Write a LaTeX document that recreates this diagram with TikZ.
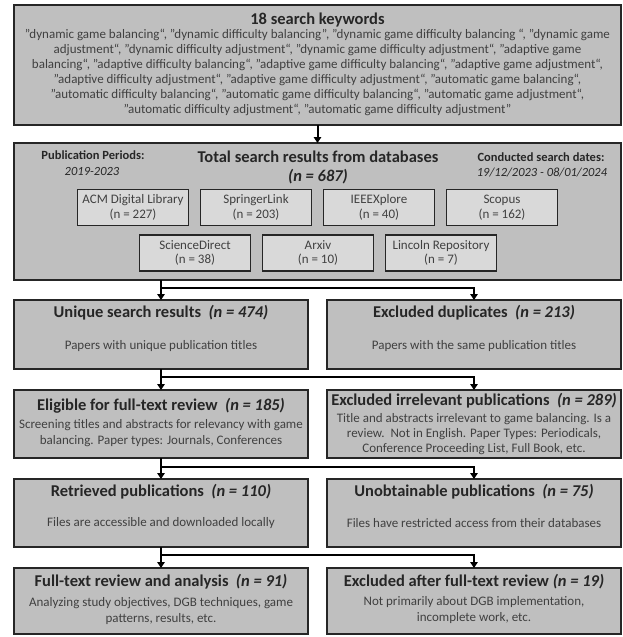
\documentclass[tikz,border=0pt]{standalone}
\usepackage{fontspec}
\setmainfont{Carlito}
\usepackage{tikz}
\usetikzlibrary{arrows.meta}
\definecolor{boxgray}{RGB}{191,191,191}
\definecolor{dbgray}{RGB}{217,217,217}
\definecolor{edgegray}{RGB}{38,38,38}
\definecolor{bodygray}{RGB}{64,64,64}
\tikzset{%
    stage/.style={%
        draw=edgegray, fill=boxgray, line width=1.6pt,
        inner sep=0pt, outer sep=0pt, anchor=north west
    },
    halfbox/.style={stage, minimum width=294pt, minimum height=#1},
    dbbox/.style={%
        draw=edgegray, fill=dbgray, line width=1.6pt,
        minimum width=111pt, minimum height=36pt, inner sep=0pt,
        align=center, text=bodygray,
        font=\fontsize{13}{14.5}\selectfont
    },
    headline/.style={inner sep=0pt, text=black!85, font=\fontsize{16.5}{19}\selectfont\bfseries},
    sidenote/.style={inner sep=0pt, text=black!85, font=\fontsize{12.5}{15}\selectfont},
    bodytext/.style={inner sep=0pt, text=bodygray, align=center, font=\fontsize{13}{15.2}\selectfont},
    flow/.style={draw=black, line width=2pt, -{Triangle[length=6pt,width=7.5pt]}}
}
\begin{document}
\begin{tikzpicture}[x=1pt,y=-1pt]
    \useasboundingbox (0,0) rectangle (622,637);
    \node[stage, minimum width=607pt, minimum height=120pt] (keywords) at (14,5) {};
    \node[stage, minimum width=607pt, minimum height=137pt] (totaldb) at (14,143) {};
    \node[halfbox=69pt] (uniq) at (14,300) {};
    \node[halfbox=69pt] (dup) at (327,300) {};
    \node[halfbox=68pt] (elig) at (14,390) {};
    \node[halfbox=68pt] (irrel) at (327,390) {};
    \node[halfbox=68pt] (retr) at (14,479) {};
    \node[halfbox=68pt] (unobt) at (327,479) {};
    \node[halfbox=66pt] (fulltext) at (14,568) {};
    \node[halfbox=66pt] (excl) at (327,568) {};

    \node[headline] (kwtitle) at (317.5,20) {18 search keywords};
    \node[bodytext, font=\fontsize{13}{15}\selectfont] (kwlist) at (317.5,72) {%
        "dynamic game balancing“, "dynamic difficulty balancing", "dynamic game difficulty balancing “, "dynamic game\\
        adjustment“, "dynamic difficulty adjustment“, "dynamic game difficulty adjustment“, "adaptive game\\
        balancing“, "adaptive difficulty balancing“, "adaptive game difficulty balancing“, "adaptive game adjustment“,\\
        "adaptive difficulty adjustment“, "adaptive game difficulty adjustment“, "automatic game balancing“,\\
        "automatic difficulty balancing“, "automatic game difficulty balancing“, "automatic game adjustment“,\\
        "automatic difficulty adjustment“, "automatic game difficulty adjustment"};

    \node[sidenote, font=\fontsize{12.5}{15}\selectfont\bfseries] (pubper) at (93,155) {Publication Periods:};
    \node[sidenote, font=\fontsize{12.5}{15}\selectfont\itshape] (pubyears) at (92,171) {2019-2023};
    \node[headline] (total) at (318,157) {Total search results from databases};
    \node[headline, font=\fontsize{16.5}{19}\selectfont\bfseries\itshape] (totaln) at (318,177) {(n = 687)};
    \node[sidenote, font=\fontsize{12.5}{15}\selectfont\bfseries] (dates) at (541,157) {Conducted search dates:};
    \node[sidenote, font=\fontsize{12.5}{15}\selectfont\itshape] (datesval) at (542,172) {19/12/2023 - 08/01/2024};

    \node[dbbox] (acm) at (133,207.5) {ACM Digital Library\\(n = 227)};
    \node[dbbox] (springer) at (256,207.5) {SpringerLink\\(n = 203)};
    \node[dbbox] (ieee) at (379,207.5) {IEEEXplore\\(n = 40)};
    \node[dbbox] (scopus) at (502,207.5) {Scopus\\(n = 162)};
    \node[dbbox] (scidirect) at (195,253) {ScienceDirect\\(n = 38)};
    \node[dbbox] (arxiv) at (318,253) {Arxiv\\(n = 10)};
    \node[dbbox] (lincoln) at (441,253) {Lincoln Repository\\(n = 7)};

    \node[headline] (uniqtitle) at (161,313) {Unique search results\ \ \textit{(n = 474)}};
    \node[bodytext] (uniqbody) at (161,346) {Papers with unique publication titles};
    \node[headline] (duptitle) at (474,313) {Excluded duplicates\ \ \textit{(n = 213)}};
    \node[bodytext] (dupbody) at (474,346) {Papers with the same publication titles};

    \node[headline] (eligtitle) at (161,406) {Eligible for full-text review\ \ \textit{(n = 185)}};
    \node[bodytext] (eligbody) at (161,433) {Screening titles and abstracts for relevancy with game\\balancing. Paper types: Journals, Conferences};
    \node[headline] (irreltitle) at (474,401) {Excluded irrelevant publications\ \ \textit{(n = 289)}};
    \node[bodytext] (irrelbody) at (474,434) {Title and abstracts irrelevant to game balancing. Is a\\review.\ \ Not in English. Paper Types: Periodicals,\\Conference Proceeding List, Full Book, etc.};

    \node[headline] (retrtitle) at (161,492) {Retrieved publications\ \ \textit{(n = 110)}};
    \node[bodytext] (retrbody) at (161,523) {Files are accessible and downloaded locally};
    \node[headline] (unobttitle) at (474,492) {Unobtainable publications\ \ \textit{(n = 75)}};
    \node[bodytext] (unobtbody) at (474,523) {Files have restricted access from their databases};

    \node[headline] (fulltitle) at (161,582) {Full-text review and analysis\ \ \textit{(n = 91)}};
    \node[bodytext] (fullbody) at (161,611) {Analyzing study objectives, DGB techniques, game\\patterns, results, etc.};
    \node[headline] (excltitle) at (474,582) {Excluded after full-text review \textit{(n = 19)}};
    \node[bodytext] (exclbody) at (474,610) {Not primarily about DGB implementation,\\incomplete work, etc.};

    \coordinate (fork1) at (161,288);
    \coordinate (fork2) at (161,377);
    \coordinate (fork3) at (161,467);
    \coordinate (fork4) at (161,555);
    \draw[flow] (keywords.south) -- (totaldb.north);
    \draw[flow] (totaldb.south -| uniq.north) -- (uniq.north);
    \draw[flow] (fork1) -| (dup.north);
    \draw[flow] (uniq.south) -- (elig.north);
    \draw[flow] (fork2) -| (irrel.north);
    \draw[flow] (elig.south) -- (retr.north);
    \draw[flow] (fork3) -| (unobt.north);
    \draw[flow] (retr.south) -- (fulltext.north);
    \draw[flow] (fork4) -| (excl.north);
\end{tikzpicture}
\end{document}
